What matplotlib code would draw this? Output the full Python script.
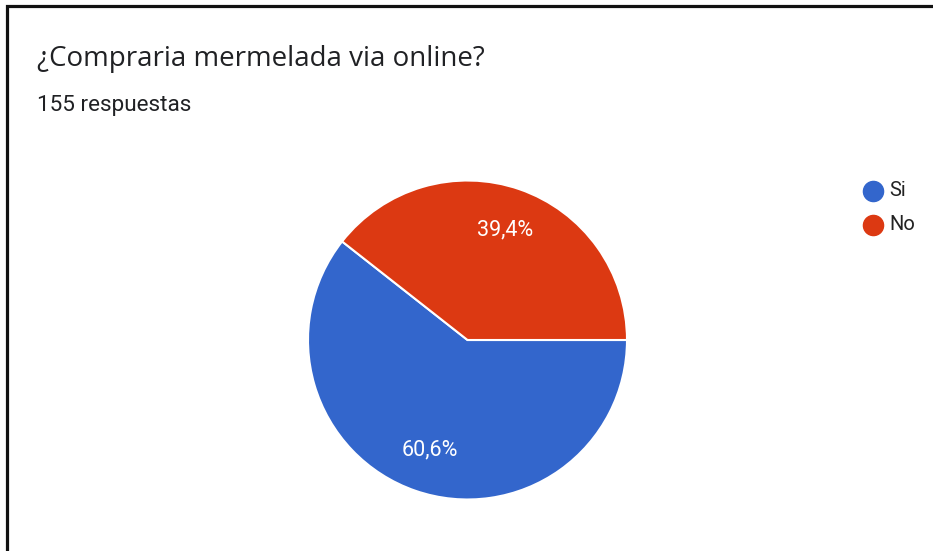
import matplotlib
matplotlib.use("Agg")
import matplotlib.pyplot as plt
from matplotlib.lines import Line2D
from matplotlib.patches import Rectangle

# Survey data
question = "¿Compraria mermelada via online?"
responses_text = "155 respuestas"
categories = ["Si", "No"]
shares = [60.6, 39.4]
colors = ["#3366CC", "#DC3912"]

W, H = 933, 551
DPI = 100
fig = plt.figure(figsize=(W / DPI, H / DPI), dpi=DPI)
fig.patch.set_facecolor("white")


def fx(px):
    return px / W


def fy(py):
    return 1 - py / H


# Card frame (runs off the right and bottom edges)
fig.add_artist(Rectangle((fx(6.5), fy(600)), fx(1000), (600 - 5.5) / H,
                         transform=fig.transFigure, fill=False,
                         edgecolor="#111111", linewidth=2.3))

# Title and subtitle
fig.text(fx(37), fy(59), question, fontsize=20, family="Open Sans",
         color="#202124", va="center", ha="left")
fig.text(fx(37), fy(105), responses_text, fontsize=16.2, family="Roboto",
         color="#202124", va="center", ha="left")

# Pie
cx, cy, r = 467.5, 340, 159.5
ax = fig.add_axes([fx(cx - r), fy(cy + r), (2 * r) / W, (2 * r) / H])
wedges, _, autotexts = ax.pie(
    shares, colors=colors, startangle=0, counterclock=False, radius=1,
    autopct=lambda p: f"{p:.1f}%".replace(".", ","), pctdistance=0.73,
    wedgeprops=dict(edgecolor="white", linewidth=1.5),
    textprops=dict(color="white", fontsize=15.5, family="Roboto"),
)
ax.set_xlim(-1, 1)
ax.set_ylim(-1, 1)
ax.set_aspect("equal")
ax.axis("off")

# Legend
for i, (lab, col) in enumerate(zip(categories, colors)):
    y = 190.5 + i * 34.5
    fig.add_artist(Line2D([fx(873)], [fy(y)], marker="o", markersize=14.5,
                          color=col, linestyle="none", transform=fig.transFigure))
    fig.text(fx(889), fy(y), lab, fontsize=14.5, family="Roboto",
             color="#222222", va="center", ha="left")

fig.savefig("out.png", dpi=DPI, facecolor="white")
